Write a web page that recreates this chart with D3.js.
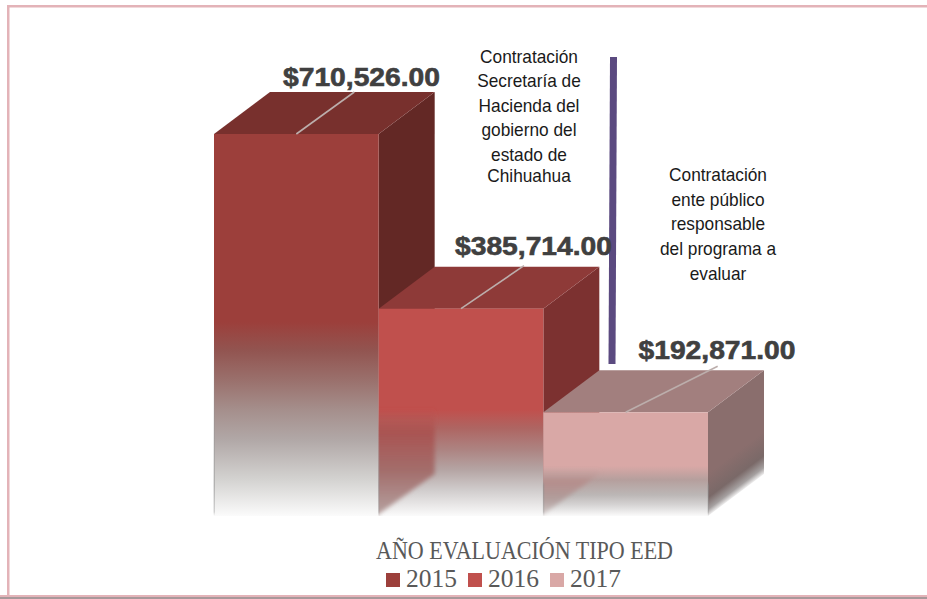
<!DOCTYPE html>
<html lang="es">
<head>
<meta charset="utf-8">
<script src="https://cdn.jsdelivr.net/npm/d3@7/dist/d3.min.js"></script>
<style>
html,body{margin:0;padding:0;background:#fff;overflow:hidden}
svg{display:block}
</style>
</head>
<body>
<svg id="chart" width="927" height="599"></svg>
<script>
// Evaluation cost by year
const years = ["2015", "2016", "2017"];
const amounts = [710526, 385714, 192871];
const frontColors = ["#9c3f3b", "#c0504d", "#d9a8a6"];
const topColors = ["#78302d", "#8e3a38", "#a27f7e"];
const sideColors = ["#632825", "#7c3130", "#8a6e6d"];
// Wash-out of each front face: [y, colour]
const frontFades = [
  [[322, "#9c3f3b"], [350, "#925450"], [380, "#9a706c"], [410, "#a58f8c"], [440, "#b1a8a7"], [480, "#d4d3d1"], [516, "#fbfbfb"]],
  [[410, "#c0504d"], [428, "#ae6562"], [450, "#ad8482"], [470, "#b5a5a4"], [490, "#d0cccc"], [516, "#fbfbfb"]],
  [[466, "#d9a8a6"], [480, "#b59f9d"], [495, "#bcb7b6"], [505, "#d6d4d4"], [516, "#fbfbfb"]]
];
// Darker strip left behind by the neighbouring bar: [y, colour, opacity]
const stripFades = [
  null,
  [[408, "#bd4f4c", 0], [432, "#a9514f", 0.9], [470, "#a26a68", 0.95], [516, "#b09a98", 0.9]],
  [[470, "#c09a98", 0], [482, "#b58a88", 0.85], [500, "#ad9694", 0.8], [516, "#c8bcbb", 0.7]]
];
const leaderReach = [[58, -42], [63, -43], [92, -46]];
const noteHacienda = ["Contratación", "Secretaría de", "Hacienda del", "gobierno del", "estado de", "Chihuahua"];
const noteEnte = ["Contratación", "ente público", "responsable", "del programa a", "evaluar"];
const legendTitle = "AÑO EVALUACIÓN TIPO EED";

const svg = d3.select("#chart");
const defs = svg.append("defs");

const x = d3.scaleBand().domain(years).range([214, 708]).padding(0);
const y = d3.scaleLinear().domain([0, 710526]).range([516, 134]);
const depth = { dx: 56, dy: -42 };
const baseY = y(0);
const money = d => "$" + d3.format(",.2f")(d);

// Page frame
svg.append("rect").attr("x", 0).attr("y", 597).attr("width", 927).attr("height", 2).attr("fill", "#a8989a");
svg.append("rect").attr("x", 7).attr("y", 5).attr("width", 920).attr("height", 2.5).attr("fill", "#e3b3b8");
svg.append("rect").attr("x", 7).attr("y", 5).attr("width", 2.5).attr("height", 592).attr("fill", "#e3b3b8");
svg.append("rect").attr("x", 0).attr("y", 595).attr("width", 927).attr("height", 2).attr("fill", "#e3b3b8");

defs.append("filter").attr("id", "soft")
  .attr("x", "-20%").attr("y", "-20%").attr("width", "140%").attr("height", "140%")
  .append("feGaussianBlur").attr("stdDeviation", 2.2);

function verticalGradient(id, stops) {
  const top = stops[0][0], bottom = stops[stops.length - 1][0];
  const g = defs.append("linearGradient").attr("id", id)
    .attr("gradientUnits", "userSpaceOnUse")
    .attr("x1", 0).attr("x2", 0).attr("y1", top).attr("y2", bottom);
  stops.forEach(s => g.append("stop")
    .attr("offset", (s[0] - top) / (bottom - top))
    .attr("stop-color", s[1])
    .attr("stop-opacity", s[2] === undefined ? 1 : s[2]));
}

years.forEach((yr, i) => {
  verticalGradient("front" + i, [[y(amounts[i]), frontColors[i]], ...frontFades[i]]);
  if (stripFades[i]) verticalGradient("strip" + i, stripFades[i]);
  verticalGradient("edge" + i, [
    [frontFades[i][0][0] + 15, "#8c8c8c", 0],
    [baseY - 30, "#8c8c8c", 0.5],
    [baseY - 4, "#9a9a9a", 0.4],
    [baseY, "#bbbbbb", 0]
  ]);
  // Side face: fades towards its slanted lower edge
  const x1 = x(yr) + x.bandwidth();
  const sg = defs.append("linearGradient").attr("id", "side" + i)
    .attr("gradientUnits", "userSpaceOnUse")
    .attr("x1", x1 - 0.6 * 34).attr("y1", baseY - 0.8 * 34)
    .attr("x2", x1 + 0.6 * 1).attr("y2", baseY + 0.8 * 1);
  sg.append("stop").attr("offset", 0).attr("stop-color", sideColors[i]);
  sg.append("stop").attr("offset", 0.55).attr("stop-color", d3.interpolateRgb(sideColors[i], "#6f6565")(0.6));
  sg.append("stop").attr("offset", 0.82).attr("stop-color", "#a5a0a0");
  sg.append("stop").attr("offset", 1).attr("stop-color", "#ffffff");
  defs.append("clipPath").attr("id", "faceClip" + i).append("rect")
    .attr("x", x(yr)).attr("y", y(amounts[i]))
    .attr("width", x.bandwidth()).attr("height", baseY - y(amounts[i]));
});

const pts = a => a.map(p => p.join(",")).join(" ");

const bars = svg.selectAll("g.bar").data(years).join("g").attr("class", "bar");

bars.each(function (yr, i) {
  const g = d3.select(this);
  const x0 = x(yr), x1 = x0 + x.bandwidth(), yt = y(amounts[i]);
  // side face
  g.append("polygon").attr("points", pts([
    [x1, yt], [x1 + depth.dx, yt + depth.dy], [x1 + depth.dx, baseY + depth.dy], [x1, baseY]
  ])).attr("fill", `url(#side${i})`);
  // top face
  g.append("polygon").attr("points", pts([
    [x0, yt], [x0 + depth.dx, yt + depth.dy], [x1 + depth.dx, yt + depth.dy], [x1, yt]
  ])).attr("fill", topColors[i]);
  // front face
  g.append("rect").attr("x", x0).attr("y", yt)
    .attr("width", x.bandwidth()).attr("height", baseY - yt)
    .attr("fill", `url(#front${i})`);
  // shaded strip where the neighbouring bar shows through the fade
  if (stripFades[i]) {
    const stripTop = stripFades[i][0][0];
    g.append("g").attr("clip-path", `url(#faceClip${i})`)
      .append("polygon").attr("points", pts([
        [x0 - 8, stripTop], [x0 + depth.dx, stripTop], [x0 + depth.dx, baseY + depth.dy],
        [x0, baseY - 2], [x0 - 8, baseY + 4]
      ])).attr("fill", `url(#strip${i})`).attr("filter", "url(#soft)");
  }
  // thin grey edge along the faded part
  g.append("rect").attr("x", x0 - 0.5).attr("y", frontFades[i][0][0] + 15)
    .attr("width", 1.5).attr("height", baseY - frontFades[i][0][0] - 15)
    .attr("fill", `url(#edge${i})`);
  if (i === years.length - 1) {
    g.append("rect").attr("x", x1 - 0.5).attr("y", frontFades[i][0][0] + 15)
      .attr("width", 1.5).attr("height", baseY - frontFades[i][0][0] - 15)
      .attr("fill", `url(#edge${i})`);
  }
  // leader from the bar to its value
  const cx = x0 + x.bandwidth() / 2;
  g.append("line").attr("x1", cx).attr("y1", yt)
    .attr("x2", cx + leaderReach[i][0]).attr("y2", yt + leaderReach[i][1])
    .attr("stroke", "#bcaeac").attr("stroke-width", 1.6);
});

// Divider between the two contracting bodies
svg.append("line").attr("x1", 613.5).attr("y1", 57).attr("x2", 612).attr("y2", 364)
  .attr("stroke", "#5b4a80").attr("stroke-width", 7);

// Value labels
const labelX = [361.5, 533.5, 717];
const labelY = [86, 255, 359];
svg.selectAll("text.value").data(amounts).join("text").attr("class", "value")
  .attr("x", (d, i) => labelX[i]).attr("y", (d, i) => labelY[i])
  .attr("text-anchor", "middle")
  .attr("font-family", "Liberation Sans").attr("font-weight", 700).attr("font-size", 25)
  .attr("textLength", 157).attr("lengthAdjust", "spacingAndGlyphs")
  .attr("stroke", "#404040").attr("stroke-width", 0.6)
  .attr("fill", "#404040").text(money);

// Notes on each side of the divider
function note(lines, cx, baselines) {
  svg.append("g").selectAll("text").data(lines).join("text")
    .attr("transform", (d, i) => `translate(${cx},${baselines[i]}) scale(0.9,1)`)
    .attr("text-anchor", "middle")
    .attr("font-family", "Liberation Sans").attr("font-size", 19.2)
    .attr("fill", "#1a1a1a").text(d => d);
}
note(noteHacienda, 529, [63, 87, 112, 136, 161, 182]);
note(noteEnte, 718, [181, 206, 230, 255, 280]);

// Legend
svg.append("text").attr("x", 524.5).attr("y", 559).attr("text-anchor", "middle")
  .attr("font-family", "Liberation Serif").attr("font-size", 25)
  .attr("textLength", 297).attr("lengthAdjust", "spacingAndGlyphs")
  .attr("fill", "#595959").text(legendTitle);
const legendX = [386, 468, 550];
const legend = svg.selectAll("g.key").data(years).join("g").attr("class", "key")
  .attr("transform", (d, i) => `translate(${legendX[i]},573)`);
legend.append("rect").attr("width", 14).attr("height", 14).attr("fill", (d, i) => frontColors[i]);
legend.append("text").attr("x", 20).attr("y", 13.5)
  .attr("font-family", "Liberation Serif").attr("font-size", 25.5)
  .attr("fill", "#595959").text(d => d);
</script>
</body>
</html>
